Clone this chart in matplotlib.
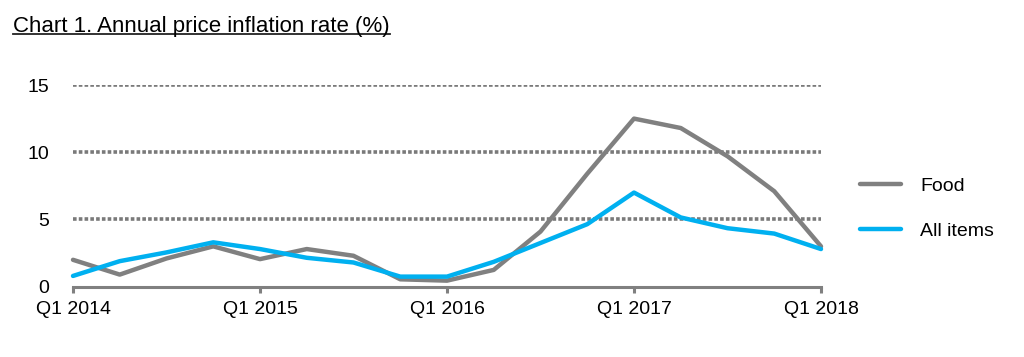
import numpy as np
import matplotlib.pyplot as plt
from matplotlib.lines import Line2D

plt.rcParams['font.family'] = ['Liberation Sans', 'DejaVu Sans']

# quarterly data, Q1 2014 .. Q1 2018
quarters = ['Q1 2014', 'Q2 2014', 'Q3 2014', 'Q4 2014',
            'Q1 2015', 'Q2 2015', 'Q3 2015', 'Q4 2015',
            'Q1 2016', 'Q2 2016', 'Q3 2016', 'Q4 2016',
            'Q1 2017', 'Q2 2017', 'Q3 2017', 'Q4 2017',
            'Q1 2018']
food = [2.0, 0.9, 2.1, 3.0, 2.05, 2.8, 2.3, 0.55, 0.45, 1.25, 4.1, 8.4,
        12.5, 11.8, 9.7, 7.1, 3.0]
all_items = [0.8, 1.9, 2.55, 3.3, 2.8, 2.15, 1.8, 0.75, 0.75, 1.85, 3.25, 4.65,
             7.0, 5.15, 4.35, 3.95, 2.8]
yticks = [0, 5, 10, 15]

gray = '#808080'
blue = '#00b0f0'

fig = plt.figure(figsize=(10.24, 3.57), dpi=100)
ax = fig.add_axes([73/1024, 1 - 286.7/357, (821 - 73)/1024, (286.7 - 85)/357])

x = np.arange(len(quarters))
for y in yticks[1:]:
    ax.axhline(y, color='#7a7a7a', lw=2.6, ls=(0, (1, 0.6)), zorder=1)

ax.plot(x, food, color=gray, lw=3.2, label='Food', clip_on=False, zorder=3,
        solid_capstyle='round')
ax.plot(x, all_items, color=blue, lw=3.2, label='All items', clip_on=False, zorder=4,
        solid_capstyle='round')

ax.set_xlim(0, len(quarters) - 1)
ax.set_ylim(0, 15)
ax.set_yticks(yticks)
ax.set_xticks(x[::4])
ax.set_xticklabels(quarters[::4])

for s in ['top', 'right', 'left']:
    ax.spines[s].set_visible(False)
ax.spines['bottom'].set_color(gray)
ax.spines['bottom'].set_linewidth(2.2)
ax.tick_params(axis='x', direction='out', length=4, width=2.2, color=gray,
               labelsize=14, pad=6)
ax.tick_params(axis='y', length=0, labelsize=14, pad=17)

ax.legend(loc='center left', bbox_to_anchor=(1.052, 0.388), frameon=False,
          fontsize=14, handlelength=2.1, handletextpad=1.0, labelspacing=1.4,
          borderaxespad=0, borderpad=0)

# underlined title
t = fig.text(13/1024, 1 - 31.7/357, 'Chart 1. Annual price inflation rate (%)',
             fontsize=16, va='baseline', ha='left')
fig.canvas.draw()
bb = t.get_window_extent()
uy = 1 - 33.5/357
fig.add_artist(Line2D([bb.x0/1024, bb.x1/1024], [uy, uy], color='#222222', lw=1.3))

fig.savefig('out.png', dpi=100)
